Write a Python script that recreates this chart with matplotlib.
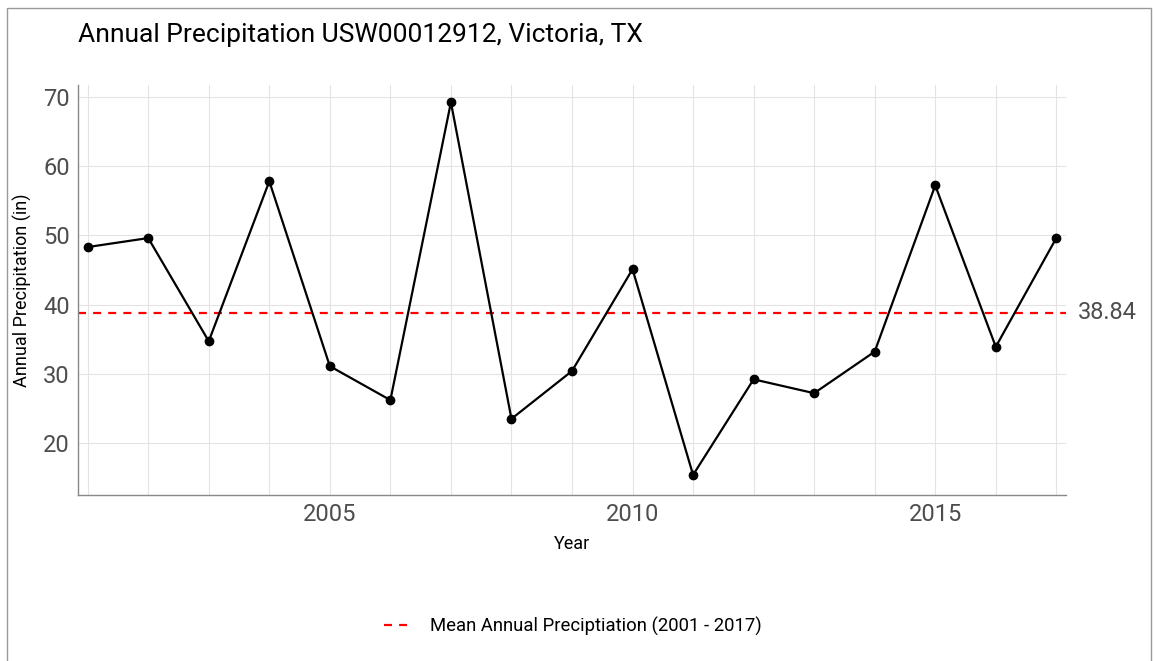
import matplotlib
matplotlib.use("Agg")
import matplotlib.pyplot as plt
from matplotlib.patches import Rectangle
from matplotlib.ticker import MultipleLocator

plt.rcParams['font.family'] = ['Roboto', 'DejaVu Sans']

years = [2001, 2002, 2003, 2004, 2005, 2006, 2007, 2008, 2009,
         2010, 2011, 2012, 2013, 2014, 2015, 2016, 2017]
precip = [48.3, 49.6, 34.7, 57.8, 31.1, 26.2, 69.2, 23.5, 30.4,
          45.1, 15.4, 29.2, 27.2, 33.2, 57.2, 33.9, 49.6]
mean_precip = 38.84
title = "Annual Precipitation USW00012912, Victoria, TX"
legend_label = "Mean Annual Preciptiation (2001 - 2017)"

W, H = 1154, 661
fig = plt.figure(figsize=(W / 100, H / 100), dpi=100)
ax = fig.add_axes([78 / W, 1 - 495 / H, (1066 - 78) / W, (495 - 85) / H])

ax.plot(years, precip, color='black', lw=1.6, marker='o', ms=6, zorder=3)
ax.axhline(mean_precip, color='red', lw=1.6, ls=(0, (3.6, 3.2)), zorder=2,
           label=legend_label)

ax.set_xlim(2000.84, 2017.16)
ax.set_ylim(12.5, 71.7)
ax.xaxis.set_major_locator(MultipleLocator(5))
ax.xaxis.set_minor_locator(MultipleLocator(1))
ax.yaxis.set_major_locator(MultipleLocator(10))
ax.grid(True, which='both', axis='x', color='#e3e3e3', lw=0.8)
ax.grid(True, which='major', axis='y', color='#e3e3e3', lw=0.8)
ax.set_axisbelow(True)
ax.tick_params(which='both', length=0, labelsize=17, colors='#4d4d4d', pad=6)
for s in ['top', 'right']:
    ax.spines[s].set_visible(False)
for s in ['left', 'bottom']:
    ax.spines[s].set_color('#888888')
    ax.spines[s].set_linewidth(1.0)

ax.set_xlabel("Year", fontsize=13, color='black', labelpad=6)
ax.set_ylabel("Annual Precipitation (in)", fontsize=13, color='black', labelpad=8)

ax.text(1.012, mean_precip, f"{mean_precip:.2f}", transform=ax.get_yaxis_transform(),
        fontsize=17, color='#4d4d4d', va='center', ha='left')

fig.text(78 / W, 1 - 35 / H, title, fontsize=19, color='black', va='center', ha='left')

leg = fig.legend(handles=[ax.lines[1]], labels=[legend_label], loc='center',
                 bbox_to_anchor=(573 / W, 1 - 626 / H), frameon=False, fontsize=13.3,
                 handlelength=1.25, handletextpad=1.25)

fig.add_artist(Rectangle((7 / W, -0.1), (1151 - 7) / W, 1.1 - 8 / H,
                         transform=fig.transFigure, fill=False,
                         edgecolor='#999999', lw=1.0))

fig.savefig("out.png", dpi=100)
